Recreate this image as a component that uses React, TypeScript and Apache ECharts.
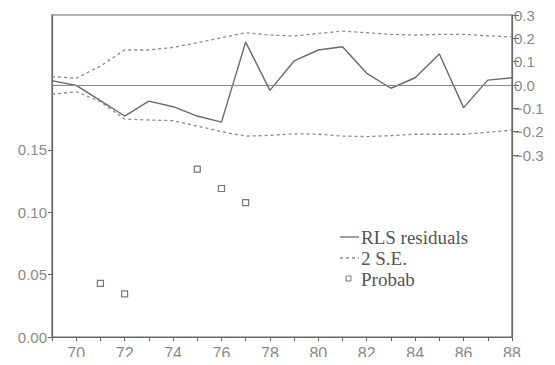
import React, { useEffect, useRef } from "react";
import * as echarts from "echarts";

const years = [69, 70, 71, 72, 73, 74, 75, 76, 77, 78, 79, 80, 81, 82, 83, 84, 85, 86, 87, 88];
const rlsResiduals = [0.019, -0.002, -0.067, -0.133, -0.069, -0.093, -0.133, -0.159, 0.184, -0.023, 0.103, 0.15, 0.164, 0.05, -0.014, 0.031, 0.133, -0.097, 0.021, 0.031];
const seUpper = [0.036, 0.029, 0.081, 0.15, 0.15, 0.161, 0.181, 0.203, 0.224, 0.214, 0.21, 0.221, 0.231, 0.224, 0.217, 0.214, 0.217, 0.217, 0.211, 0.206];
const seLower = [-0.04, -0.029, -0.071, -0.146, -0.15, -0.153, -0.176, -0.2, -0.219, -0.216, -0.209, -0.211, -0.219, -0.221, -0.217, -0.211, -0.211, -0.211, -0.203, -0.193];
const probabYears = [71, 72, 75, 76, 77];
const probabValues = [0.043, 0.0345, 0.1345, 0.119, 0.1077];
const leftTicks = [0, 0.05, 0.1, 0.15];
const rightTicks = [-0.3, -0.2, -0.1, 0, 0.1, 0.2, 0.3];
const xLabelYears = [70, 72, 74, 76, 78, 80, 82, 84, 86, 88];
const legendNames = ["RLS residuals", "2 S.E.", "Probab"];

const AXIS = "#666";
const LABEL = "#8a8a8a";
const LINE = "#6a6a6a";
const DASH = "#8a8a8a";
const SANS = "'Liberation Sans', Arial, sans-serif";
const SERIF = "'Liberation Serif', 'Times New Roman', serif";

export default function App() {
  const ref = useRef<HTMLDivElement>(null);
  useEffect(() => {
    if (!ref.current) return;
    const chart = echarts.init(ref.current, undefined, { renderer: "svg" });
    const pair = (ys: number[], vs: number[]) => ys.map((y, i) => [y, vs[i]]);
    const legX = 340;
    const legY = [237, 258, 279];
    chart.setOption({
      animation: false,
      backgroundColor: "#fff",
      grid: {
        left: 52,
        right: 43,
        top: 15,
        bottom: 28,
        show: true,
        borderColor: AXIS,
        borderWidth: 1.2,
        backgroundColor: "transparent",
      },
      xAxis: {
        type: "value",
        min: 69,
        max: 88,
        interval: 1,
        axisLine: { show: true, lineStyle: { color: AXIS, width: 1.2 } },
        axisTick: { show: true, length: 4, lineStyle: { color: AXIS } },
        splitLine: { show: false },
        axisLabel: {
          customValues: xLabelYears,
          color: LABEL,
          fontFamily: SANS,
          fontSize: 16,
          margin: 8,
          formatter: (v: number) => String(v),
        },
      },
      yAxis: [
        {
          type: "value",
          position: "left",
          min: 0,
          max: 0.258,
          axisLine: { show: true, lineStyle: { color: AXIS, width: 1.2 } },
          axisTick: { show: true, length: 4, customValues: leftTicks, lineStyle: { color: AXIS } },
          splitLine: { show: false },
          axisLabel: {
            customValues: leftTicks,
            color: LABEL,
            fontFamily: SANS,
            fontSize: 15,
            margin: 5,
            formatter: (v: number) => v.toFixed(2),
          },
        },
        {
          type: "value",
          position: "right",
          min: -1.08,
          max: 0.3,
          axisLine: { show: true, lineStyle: { color: AXIS, width: 1.2 } },
          axisTick: { show: true, length: 7, customValues: rightTicks, lineStyle: { color: AXIS } },
          splitLine: { show: false },
          axisLabel: {
            customValues: rightTicks,
            color: LABEL,
            fontFamily: SANS,
            fontSize: 15,
            margin: 2,
            formatter: (v: number) =>
              (v < -0.001 ? "\u2212" : "") + Math.abs(v).toFixed(1),
          },
        },
      ],
      series: [
        {
          name: legendNames[0],
          type: "line",
          yAxisIndex: 1,
          data: pair(years, rlsResiduals),
          symbol: "none",
          lineStyle: { color: LINE, width: 1.4 },
          markLine: {
            silent: true,
            symbol: "none",
            label: { show: false },
            lineStyle: { color: "#888", width: 1, type: "solid" },
            data: [{ yAxis: 0 }],
          },
        },
        {
          name: legendNames[1],
          type: "line",
          yAxisIndex: 1,
          data: pair(years, seUpper),
          symbol: "none",
          lineStyle: { color: DASH, width: 1.3, type: [3, 3] },
        },
        {
          name: legendNames[1],
          type: "line",
          yAxisIndex: 1,
          data: pair(years, seLower),
          symbol: "none",
          lineStyle: { color: DASH, width: 1.3, type: [3, 3] },
        },
        {
          name: legendNames[2],
          type: "scatter",
          yAxisIndex: 0,
          data: pair(probabYears, probabValues),
          symbol: "rect",
          symbolSize: 6,
          itemStyle: { color: "#fff", borderColor: "#555", borderWidth: 1.2 },
        },
      ],
      graphic: [
        {
          type: "line",
          shape: { x1: legX, y1: legY[0], x2: legX + 19, y2: legY[0] },
          style: { stroke: LINE, lineWidth: 1.3 },
        },
        {
          type: "line",
          shape: { x1: legX, y1: legY[1], x2: legX + 19, y2: legY[1] },
          style: { stroke: DASH, lineWidth: 1.3, lineDash: [3, 3] },
        },
        {
          type: "rect",
          shape: { x: legX + 6, y: legY[2] - 3, width: 5, height: 5 },
          style: { fill: "#fff", stroke: "#777", lineWidth: 1 },
        },
        ...legendNames.map((n, i) => ({
          type: "text",
          x: legX + 21,
          y: legY[i],
          style: {
            text: n,
            fill: "#555",
            font: `19px ${SERIF}`,
            textVerticalAlign: "middle",
            verticalAlign: "middle",
          },
        })),
      ],
    });
    return () => chart.dispose();
  }, []);
  return <div ref={ref} style={{ width: 555, height: 365, margin: -8 }} />;
}
